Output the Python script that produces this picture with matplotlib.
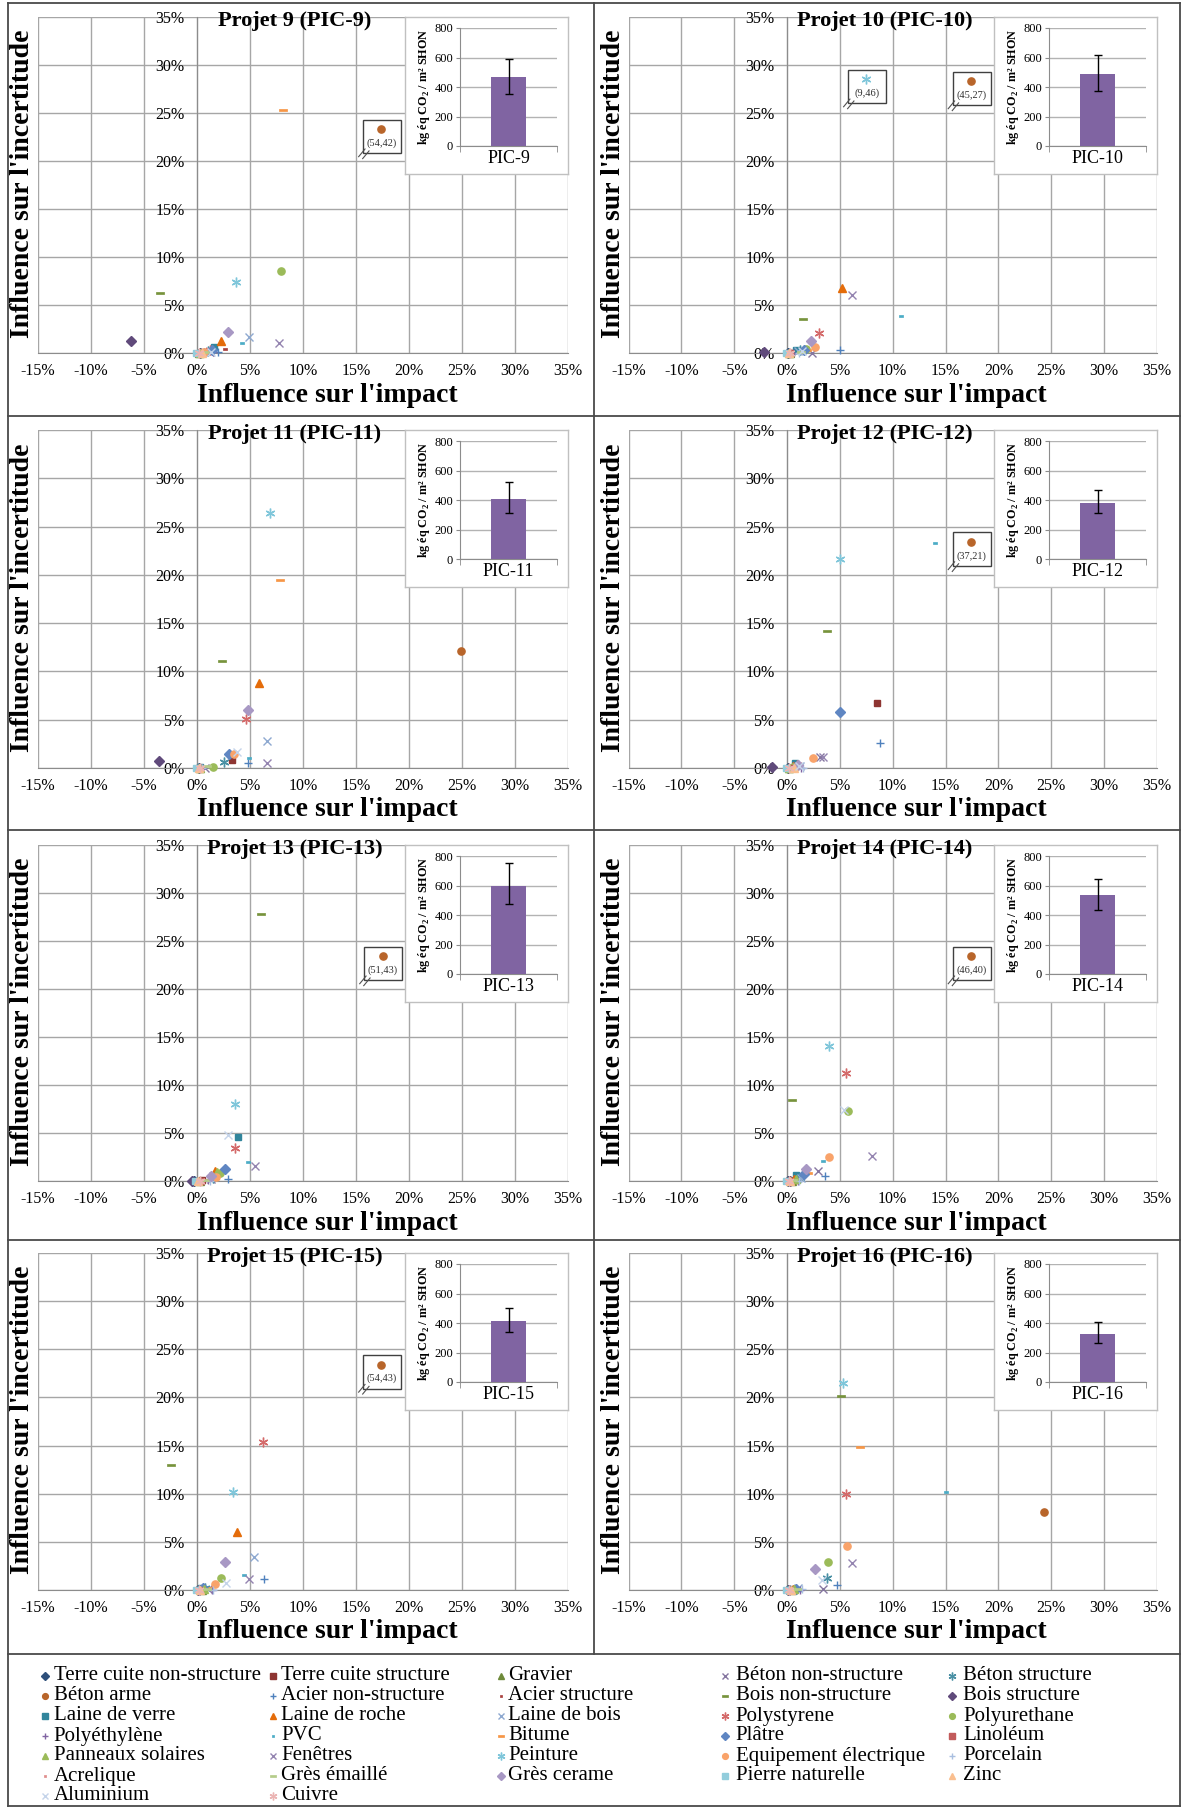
import matplotlib
matplotlib.use('Agg')
import matplotlib.pyplot as plt
import numpy as np
from matplotlib.path import Path
from matplotlib.patches import Rectangle

plt.rcParams['font.family'] = ['Liberation Serif', 'DejaVu Serif']
plt.rcParams['mathtext.fontset'] = 'custom'
plt.rcParams['mathtext.rm'] = 'Liberation Serif'
plt.rcParams['mathtext.bf'] = 'Liberation Serif:bold'

# ---------------- data ----------------
materials = ["Terre cuite non-structure", "Terre cuite structure", "Gravier", "Béton non-structure", "Béton structure",
             "Béton arme", "Acier non-structure", "Acier structure", "Bois non-structure", "Bois structure",
             "Laine de verre", "Laine de roche", "Laine de bois", "Polystyrene", "Polyurethane",
             "Polyéthylène", "PVC", "Bitume", "Plâtre", "Linoléum",
             "Panneaux solaires", "Fenêtres", "Peinture", "Equipement électrique", "Porcelain",
             "Acrelique", "Grès émaillé", "Grès cerame", "Pierre naturelle", "Zinc",
             "Aluminium", "Cuivre"]

titles = ["Projet 9 (PIC-9)", "Projet 10 (PIC-10)", "Projet 11 (PIC-11)", "Projet 12 (PIC-12)",
          "Projet 13 (PIC-13)", "Projet 14 (PIC-14)", "Projet 15 (PIC-15)", "Projet 16 (PIC-16)"]
codes = ["PIC-9", "PIC-10", "PIC-11", "PIC-12", "PIC-13", "PIC-14", "PIC-15", "PIC-16"]

# influence on impact (%) / influence on uncertainty (%), one value per material
impact_pic9 = [0.3, 0.5, 0.2, 1.2, 1.0, 17.4, 2.0, 2.6, -3.5, -6.2, 1.6, 2.3, 4.9, 1.2, 7.9, 1.5, 4.2, 8.1, 1.4, 0.4, 0.3, 7.7, 3.7, 0.7, 0.5, 0.6, 0.8, 2.9, -0.1, 0.5, 1.3, 0.2]
uncert_pic9 = [0.05, 0.1, 0.05, 0.1, 0.2, 23.3, 0.15, 0.4, 6.25, 1.2, 0.6, 1.25, 1.7, 0.3, 8.5, 0.1, 1.0, 25.3, 0.3, 0.05, 0.05, 1.0, 7.4, 0.15, 0.05, 0.05, 0.1, 2.15, 0.0, 0.0, 0.1, 0.0]
impact_pic10 = [0.1, 0.4, 0.3, 2.4, 1.2, 17.4, 5.0, 0.8, 1.5, -2.2, 0.85, 5.2, 1.0, 3.0, 1.8, 0.6, 10.8, 1.9, 1.6, 0.3, 0.2, 6.1, 7.5, 2.6, 1.1, 0.4, 1.3, 2.3, -0.1, 0.2, 1.4, 0.3]
uncert_pic10 = [0.0, 0.05, 0.05, 0.05, 0.3, 28.3, 0.35, 0.2, 3.55, 0.1, 0.35, 6.8, 0.2, 2.1, 0.4, 0.05, 3.9, 0.3, 0.35, 0.05, 0.0, 6.0, 28.5, 0.6, 0.05, 0.0, 0.1, 1.3, 0.0, 0.0, 0.2, 0.0]
impact_pic11 = [0.2, 3.3, 0.3, 0.8, 2.55, 24.9, 4.8, 0.6, 2.4, -3.55, 0.3, 5.85, 6.6, 4.6, 1.5, 0.5, 4.95, 7.8, 3.0, 0.2, 0.3, 6.6, 6.9, 3.5, 0.5, 0.4, 0.9, 4.85, -0.1, 0.2, 3.8, 0.3]
uncert_pic11 = [0.0, 0.8, 0.05, 0.05, 0.6, 12.1, 0.55, 0.1, 11.1, 0.7, 0.1, 8.8, 2.75, 5.1, 0.15, 0.05, 1.0, 19.5, 1.5, 0.0, 0.0, 0.55, 26.4, 1.4, 0.05, 0.05, 0.2, 6.0, 0.0, 0.0, 1.7, 0.0]
impact_pic12 = [0.1, 8.5, 0.2, 3.1, 0.9, 17.4, 8.8, 0.5, 3.75, -1.45, 0.75, 0.6, 1.2, 0.9, 0.6, 1.3, 14.0, 0.4, 4.97, 0.3, 0.2, 3.4, 5.0, 2.45, 1.5, 0.4, 0.7, 1.0, -0.1, 0.7, 1.1, 0.2]
uncert_pic12 = [0.0, 6.7, 0.0, 1.1, 0.2, 23.4, 2.6, 0.1, 14.2, 0.15, 0.5, 0.2, 0.2, 0.3, 0.1, 0.05, 23.3, 0.1, 5.85, 0.0, 0.0, 1.1, 21.6, 1.0, 0.05, 0.0, 0.05, 0.3, 0.0, 0.0, 0.2, 0.0]
impact_pic13 = [-0.3, 0.5, 0.3, 1.3, 1.5, 17.5, 2.9, 0.8, 6.0, -0.5, 3.9, 1.7, 1.5, 3.6, 2.15, 1.0, 4.8, 1.6, 2.6, 0.4, 1.9, 5.45, 3.6, 1.8, 1.2, 0.5, 0.8, 1.3, -0.2, 0.1, 2.9, 0.3]
uncert_pic13 = [0.05, 0.1, 0.0, 0.2, 0.3, 23.4, 0.2, 0.15, 27.8, 0.05, 4.6, 1.0, 0.5, 3.4, 0.8, 0.1, 1.95, 0.6, 1.2, 0.05, 0.9, 1.6, 8.0, 0.45, 0.05, 0.0, 0.1, 0.5, 0.05, 0.0, 4.8, 0.0]
impact_pic14 = [0.1, 0.3, 0.5, 2.9, 1.2, 17.4, 3.6, 0.5, 0.45, 0.3, 0.8, 0.7, 1.3, 5.55, 5.8, 1.0, 3.4, 2.0, 1.6, 0.2, 0.8, 8.0, 4.0, 4.0, 1.1, 0.3, 0.6, 1.75, -0.1, 0.3, 5.4, 0.2]
uncert_pic14 = [0.0, 0.05, 0.05, 1.0, 0.3, 23.4, 0.5, 0.1, 8.45, 0.05, 0.6, 0.2, 0.3, 11.3, 7.25, 0.05, 2.1, 0.8, 0.7, 0.0, 0.2, 2.6, 14.05, 2.55, 0.05, 0.0, 0.1, 1.3, 0.0, 0.0, 7.4, 0.0]
impact_pic15 = [0.1, 0.3, 0.5, 1.0, 0.8, 17.4, 6.3, 0.6, -2.5, 0.2, 0.4, 3.75, 5.4, 6.2, 2.25, 1.4, 4.4, 0.9, 0.6, 0.2, 0.7, 4.95, 3.35, 1.7, 1.5, 0.3, 0.95, 2.6, -0.1, 0.3, 2.7, 0.2]
uncert_pic15 = [0.0, 0.05, 0.05, 0.1, 0.2, 23.4, 1.15, 0.1, 13.0, 0.05, 0.25, 6.05, 3.4, 15.4, 1.2, 0.05, 1.55, 0.2, 0.2, 0.0, 0.1, 1.15, 10.15, 0.6, 0.05, 0.0, 0.1, 2.95, 0.0, 0.0, 0.75, 0.0]
impact_pic16 = [0.1, 0.3, 0.5, 3.4, 3.75, 24.3, 4.75, 0.6, 5.1, 0.2, 0.3, 0.6, 1.0, 5.55, 3.85, 1.2, 15.05, 6.9, 0.8, 0.2, 0.7, 6.1, 5.3, 5.7, 1.45, 0.4, 0.9, 2.6, -0.1, 0.4, 3.3, 0.2]
uncert_pic16 = [0.0, 0.05, 0.05, 0.15, 1.2, 8.1, 0.5, 0.1, 20.1, 0.0, 0.1, 0.15, 0.2, 10.0, 2.95, 0.05, 10.15, 14.9, 0.15, 0.0, 0.1, 2.85, 21.5, 4.6, 0.15, 0.0, 0.1, 2.2, 0.0, 0.0, 1.0, 0.0]

impacts = [impact_pic9, impact_pic10, impact_pic11, impact_pic12, impact_pic13, impact_pic14, impact_pic15, impact_pic16]
uncerts = [uncert_pic9, uncert_pic10, uncert_pic11, uncert_pic12, uncert_pic13, uncert_pic14, uncert_pic15, uncert_pic16]

# off-scale points shown in a framed call-out: (material index, real values label)
callouts = [[(5, "(54,42)")], [(22, "(9,46)"), (5, "(45,27)")], [], [(5, "(37,21)")],
            [(5, "(51,43)")], [(5, "(46,40)")], [(5, "(54,43)")], []]

# total impact kg eq CO2 / m2 SHON, with uncertainty range
bar_mean = [465, 485, 410, 380, 600, 535, 415, 325]
bar_low = [355, 375, 310, 315, 475, 435, 340, 265]
bar_high = [590, 615, 525, 465, 755, 645, 500, 405]

# ---------------- styles ----------------
colors = ["#2E4F7A", "#8E3532", "#6E8A3A", "#8576A0", "#4A90A4",
          "#B8652A", "#4F81BD", "#A8403D", "#77933C", "#604A7B",
          "#31859C", "#E46C0A", "#8EA9D0", "#D46A6A", "#9BBB59",
          "#8064A2", "#4BACC6", "#F79646", "#5F86C2", "#C25B5B",
          "#9BBB59", "#9484B0", "#7FC6DA", "#F9A36A", "#A9BFE0",
          "#E08D8B", "#B5CC8A", "#A898C4", "#92CDDC", "#FABF8F",
          "#C5D4EA", "#EBB5B4"]

short_dash = Path([(-1, -0.6), (1, -0.6), (1, 0.6), (-1, 0.6), (-1, -0.6)], closed=True)
long_dash = Path([(-1, -0.33), (1, -0.33), (1, 0.33), (-1, 0.33), (-1, -0.33)], closed=True)
marker_cycle = [('D', 4.6, 1.0), ('s', 4.8, 1.0), ('^', 5.6, 1.0), ('x', 5.2, 1.0), ((6, 2, 0), 7.0, 1.0),
                ('o', 5.2, 1.0), ('+', 6.0, 1.0), (short_dash, 2.6, 0.5), (long_dash, 5.6, 0.5)]

W, H = 1182, 1807
fig = plt.figure(figsize=(W / 100, H / 100), dpi=100)


def place(l, t, r, b):
    return fig.add_axes([l / W, 1 - b / H, (r - l) / W, (b - t) / H])


# background: table lines + legend, in pixel coordinates
bg = fig.add_axes([0, 0, 1, 1])
bg.set_zorder(0)
bg.set_xlim(0, W)
bg.set_ylim(H, 0)
bg.axis('off')
lc = '#4A4A4A'
for yv in [3, 415.5, 829.5, 1240, 1654]:
    bg.plot([7.5, 1180], [yv, yv], color=lc, lw=1.3)
bg.plot([7.5, 1180], [1805.5, 1805.5], color=lc, lw=1.3)
bg.plot([7.5, 7.5], [3, 1806], color=lc, lw=1.3)
bg.plot([1180, 1180], [3, 1806], color=lc, lw=1.3)
bg.plot([594, 594], [3, 1654], color=lc, lw=1.3)

leg_mx = [45, 272.5, 500.6, 725, 951.6]
leg_tx = [53.6, 281, 508, 735.5, 963]
for i, name in enumerate(materials):
    r, c = divmod(i, 5)
    yy = 1676 + 20 * r
    mk, ms, mw = marker_cycle[i % 9]
    bg.plot([leg_mx[c]], [yy], linestyle='none', marker=mk, ms=ms * 0.8, color=colors[i],
            mec=colors[i], mew=mw)
    bg.text(leg_tx[c], yy, name, fontsize=15, va='center', ha='left')

cols = [(38, 568), (628.5, 1157)]
rows = [(17, 353), (430, 768), (845, 1181), (1253, 1590)]
xt = list(range(-15, 36, 5))
yt = list(range(0, 36, 5))
grid_c = '#A6A6A6'

for k in range(8):
    l, rr = cols[k % 2]
    t, b = rows[k // 2]
    ax = place(l, t, rr, b)
    ax.set_zorder(1)
    ax.set_facecolor('none')
    ax.set_xlim(-15, 35)
    ax.set_ylim(0, 35)
    ax.set_xticks(xt)
    ax.set_yticks(yt)
    ax.set_xticklabels([f'{v}%' for v in xt])
    ax.set_yticklabels([f'{v}%' for v in yt])
    ax.grid(True, color=grid_c, lw=1)
    ax.set_axisbelow(True)
    for s in ['top', 'right']:
        ax.spines[s].set_visible(False)
    ax.spines['left'].set_position(('data', 0))
    ax.spines['left'].set_color('#8C8C8C')
    ax.spines['bottom'].set_color('#8C8C8C')
    ax.tick_params(axis='both', length=0, labelsize=11.5)
    ax.tick_params(axis='y', pad=9)
    ax.tick_params(axis='x', pad=7)

    for i in range(len(materials)):
        mk, ms, mw = marker_cycle[i % 9]
        ax.plot([impacts[k][i]], [uncerts[k][i]], linestyle='none', marker=mk, ms=ms,
                color=colors[i], mec=colors[i], mew=mw, zorder=5, clip_on=False)

    for (i, lab) in callouts[k]:
        x0, y0 = impacts[k][i], uncerts[k][i]
        ax.add_patch(Rectangle((x0 - 1.7, y0 - 2.5), 3.55, 3.5, fc='white', ec='#404040',
                               lw=1, zorder=4, clip_on=False))
        ax.text(x0 + 0.05, y0 - 1.45, lab, ha='center', va='center', fontsize=7.5,
                color='#303030', zorder=6)
        for dx, dy in [(0, 0), (0.38, -0.2)]:
            ax.plot([x0 - 2.15 + dx, x0 - 1.55 + dx], [y0 - 2.85 + dy, y0 - 2.05 + dy],
                    color='#505050', lw=0.8, zorder=6, clip_on=False)

    w = rr - l
    fig.text((l + 0.485 * w) / W, 1 - (t + 4) / H, titles[k], ha='center', va='center',
             fontsize=16, fontweight='bold')
    fig.text((l + 0.545 * w) / W, 1 - (b + 42) / H, "Influence sur l'impact", ha='center',
             va='center', fontsize=20, fontweight='bold')
    fig.text((l - 15) / W, 1 - (t + 0.495 * (b - t)) / H, "Influence sur l'incertitude",
             ha='center', va='center', rotation=90, fontsize=20, fontweight='bold')

    # inset bar chart
    bl = rr - 163
    box = place(bl, t, rr, t + 157)
    box.set_zorder(2)
    box.set_xticks([])
    box.set_yticks([])
    for s in box.spines.values():
        s.set_color('#C0C0C0')
        s.set_linewidth(1)
    bax = place(bl + 55, t + 11, bl + 152, t + 129)
    bax.set_zorder(3)
    bax.bar([codes[k]], [bar_mean[k]], width=0.37, color='#8064A2', zorder=3,
            yerr=[[bar_mean[k] - bar_low[k]], [bar_high[k] - bar_mean[k]]],
            error_kw=dict(ecolor='black', elinewidth=1, capsize=3, capthick=1, zorder=4))
    bax.set_xlim(-0.5, 0.5)
    bax.set_ylim(0, 800)
    bax.set_yticks(range(0, 801, 200))
    bax.grid(True, axis='y', color='#B3B3B3', lw=1)
    bax.set_axisbelow(True)
    for s in ['top', 'right']:
        bax.spines[s].set_visible(False)
    bax.spines['left'].set_color('#8C8C8C')
    bax.spines['bottom'].set_color('#8C8C8C')
    bax.tick_params(axis='y', labelsize=9, length=3, color='#8C8C8C', pad=2)
    bax.tick_params(axis='x', labelsize=13, length=0, pad=3)
    bax.set_xticks([-0.5, 0.5], minor=True)
    bax.tick_params(axis='x', which='minor', length=4, color='#8C8C8C')
    bax.set_ylabel('kg éq CO$_\\mathbf{2}$ / m² SHON', fontsize=8.7, fontweight='bold')
    bax.yaxis.set_label_coords(-0.29, 0.5)

fig.savefig('out.png', dpi=100)
